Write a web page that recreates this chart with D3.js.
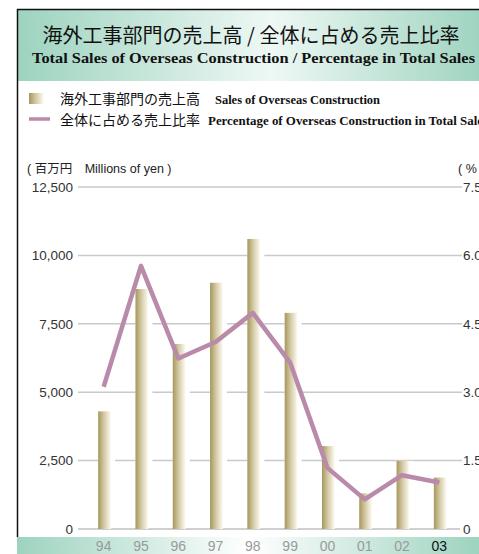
<!DOCTYPE html>
<html>
<head>
<meta charset="utf-8">
<script src="https://cdnjs.cloudflare.com/ajax/libs/d3/7.8.5/d3.min.js"></script>
<style>
  html, body { margin: 0; padding: 0; background: #fff; overflow: hidden; }
  svg { display: block; }
</style>
</head>
<body>
<div id="chart"></div>
<script>
// chart data
var years = ['94', '95', '96', '97', '98', '99', '00', '01', '02', '03']
var sales = [4300, 8770, 6760, 9000, 10600, 7900, 3030, 1300, 2490, 1880]
var share = [3.12, 5.77, 3.74, 4.1, 4.74, 3.65, 1.34, 0.65, 1.18, 1.02]
var salesTicks = [0, 2500, 5000, 7500, 10000, 12500]
var shareTicks = [0, 1.5, 3.0, 4.5, 6.0, 7.5]

var W = 479, H = 554
var svg = d3.select('#chart').append('svg')
  .attr('width', W)
  .attr('height', H)

var defs = svg.append('defs')

function gradient(id, stops) {
  var g = defs.append('linearGradient').attr('id', id)
    .attr('x1', '0%').attr('x2', '100%').attr('y1', '0%').attr('y2', '0%')
  stops.forEach(function (s) {
    g.append('stop').attr('offset', s[0]).attr('stop-color', s[1])
  })
}
gradient('head', [['0%', '#9dd3bf'], ['55%', '#eef8f4'], ['100%', '#a0d4c1']])
gradient('foot', [['0%', '#9dd3bf'], ['50%', '#ffffff'], ['100%', '#9dd3bf']])
gradient('bar', [['0%', '#a6975c'], ['45%', '#d3c9a3'], ['100%', '#fffdf8']])

// frame + header band
svg.append('rect').attr('x', 17).attr('y', 10).attr('width', W - 17).attr('height', 71)
  .attr('fill', 'url(#head)')
svg.append('line').attr('x1', 17).attr('x2', W).attr('y1', 9.5).attr('y2', 9.5)
  .attr('stroke', '#111').attr('stroke-width', 1.5)
svg.append('line').attr('x1', 17.5).attr('x2', 17.5).attr('y1', 9).attr('y2', 537)
  .attr('stroke', '#111').attr('stroke-width', 1.5)

svg.append('text').attr('x', 251).attr('y', 43)
  .attr('text-anchor', 'middle')
  .attr('font-family', '"Noto Sans CJK JP", sans-serif')
  .attr('font-size', 20).attr('fill', '#111')
  .text('海外工事部門の売上高 / 全体に占める売上比率')
svg.append('text').attr('x', 32).attr('y', 63)
  .attr('font-family', '"Liberation Serif", serif')
  .attr('font-weight', 'bold').attr('font-size', 15).attr('fill', '#111')
  .attr('textLength', 443).attr('lengthAdjust', 'spacingAndGlyphs')
  .text('Total Sales of Overseas Construction / Percentage in Total Sales')

// legend
svg.append('rect').attr('x', 29).attr('y', 93).attr('width', 15).attr('height', 11)
  .attr('fill', 'url(#bar)')
svg.append('line').attr('x1', 29).attr('x2', 50).attr('y1', 119).attr('y2', 119)
  .attr('stroke', '#b98aaa').attr('stroke-width', 3.5)

var jp = '"Noto Sans CJK JP", sans-serif'
var serif = '"Liberation Serif", serif'
svg.append('text').attr('x', 60).attr('y', 104)
  .attr('font-family', jp).attr('font-size', 14).attr('fill', '#111')
  .text('海外工事部門の売上高')
svg.append('text').attr('x', 215).attr('y', 104)
  .attr('font-family', serif).attr('font-weight', 'bold').attr('font-size', 12).attr('fill', '#111')
  .attr('textLength', 165).attr('lengthAdjust', 'spacingAndGlyphs')
  .text('Sales of Overseas Construction')
svg.append('text').attr('x', 60).attr('y', 125)
  .attr('font-family', jp).attr('font-size', 14).attr('fill', '#111')
  .text('全体に占める売上比率')
svg.append('text').attr('x', 208).attr('y', 125)
  .attr('font-family', serif).attr('font-weight', 'bold').attr('font-size', 12).attr('fill', '#111')
  .attr('textLength', 280).attr('lengthAdjust', 'spacingAndGlyphs')
  .text('Percentage of Overseas Construction in Total Sales')

// unit labels
svg.append('text').attr('x', 27).attr('y', 173)
  .attr('font-family', '"Liberation Sans", "Noto Sans CJK JP", sans-serif')
  .attr('font-size', 12.5).attr('fill', '#222')
  .text('( 百万円　Millions of yen )')
svg.append('text').attr('x', 458).attr('y', 173)
  .attr('font-family', '"Liberation Sans", sans-serif')
  .attr('font-size', 12.5).attr('fill', '#222')
  .text('( %')

// scales
var x = d3.scaleBand().domain(years).range([86, 459]).padding(0)
var y = d3.scaleLinear().domain([0, 12500]).range([529, 187])
var y2 = d3.scaleLinear().domain([0, 7.5]).range([529, 187])
var bw = 13

// gridlines
svg.append('g').selectAll('line')
  .data(salesTicks.filter(function (d) { return d > 0 }))
  .join('line')
  .attr('x1', 78).attr('x2', 462)
  .attr('y1', function (d) { return y(d) }).attr('y2', function (d) { return y(d) })
  .attr('stroke', '#c9c9c9').attr('stroke-width', 1.5)
svg.append('line').attr('x1', 78).attr('x2', 460).attr('y1', y(0)).attr('y2', y(0))
  .attr('stroke', '#a0a0a0').attr('stroke-width', 1)

// bars with white halo that breaks the grid
var bars = svg.append('g')
bars.selectAll('rect.halo').data(sales).join('rect').attr('class', 'halo')
  .attr('x', function (d, i) { return x(years[i]) + x.bandwidth() / 2 - bw / 2 })
  .attr('y', function (d) { return y(d) })
  .attr('width', bw + 4)
  .attr('height', function (d) { return y(0) - y(d) - 1 })
  .attr('fill', '#fff')
bars.selectAll('rect.bar').data(sales).join('rect').attr('class', 'bar')
  .attr('x', function (d, i) { return x(years[i]) + x.bandwidth() / 2 - bw / 2 })
  .attr('y', function (d) { return y(d) })
  .attr('width', bw)
  .attr('height', function (d) { return y(0) - y(d) })
  .attr('fill', 'url(#bar)')

// share line
var line = d3.line()
  .x(function (d, i) { return x(years[i]) + x.bandwidth() / 2 - 1 })
  .y(function (d) { return y2(d) })
svg.append('path').datum(share)
  .attr('d', line)
  .attr('fill', 'none')
  .attr('stroke', '#b98aaa')
  .attr('stroke-width', 4.5)
  .attr('stroke-linejoin', 'round')

// axes
var left = svg.append('g').attr('transform', 'translate(73,0)')
  .call(d3.axisLeft(y).tickValues(salesTicks).tickFormat(d3.format(',')).tickSize(0).tickPadding(0))
var right = svg.append('g').attr('transform', 'translate(463,0)')
  .call(d3.axisRight(y2).tickValues(shareTicks)
    .tickFormat(function (d) { return d === 0 ? '0' : d3.format('.1f')(d) })
    .tickSize(0).tickPadding(0))
;[left, right].forEach(function (g) {
  g.select('.domain').remove()
  g.selectAll('text')
    .attr('font-family', '"Liberation Sans", sans-serif')
    .attr('font-size', 13.5).attr('fill', '#333')
})

// bottom band + year labels
svg.append('rect').attr('x', 17).attr('y', 537).attr('width', W - 17).attr('height', H - 537)
  .attr('fill', 'url(#foot)')
svg.append('g').selectAll('text').data(years).join('text')
  .attr('x', function (d) { return x(d) + x.bandwidth() / 2 - 1 })
  .attr('y', 551)
  .attr('text-anchor', 'middle')
  .attr('font-family', '"Liberation Sans", sans-serif')
  .attr('font-size', 14)
  .attr('fill', function (d, i) { return i === years.length - 1 ? '#111' : '#9a9a9a' })
  .text(function (d) { return d })
</script>
</body>
</html>
